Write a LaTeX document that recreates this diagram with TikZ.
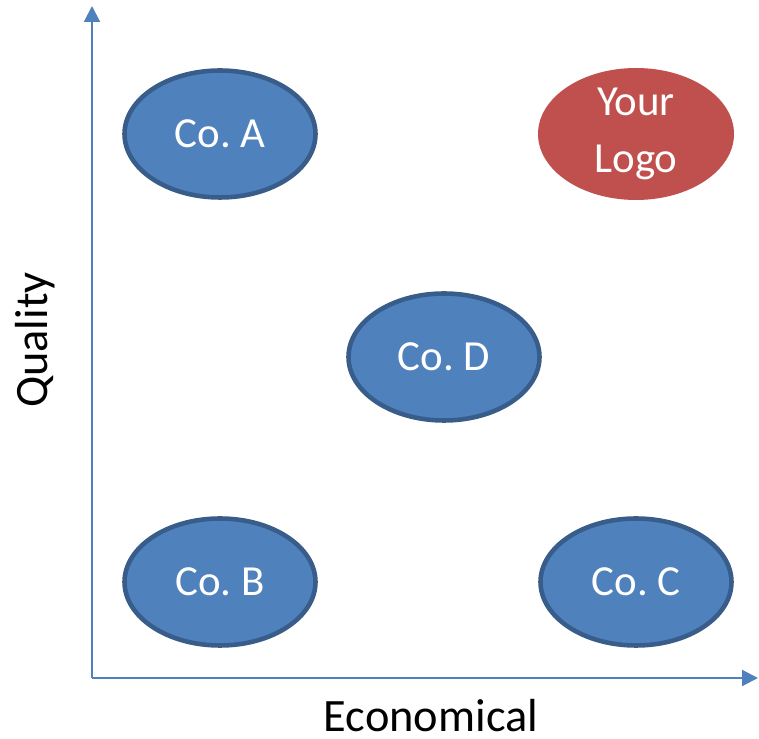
\documentclass[tikz,border=0pt]{standalone}
\usepackage{fontspec}
\setmainfont{Carlito}
\usetikzlibrary{shapes.geometric,arrows.meta}

\definecolor{coblue}{HTML}{4F81BD}
\definecolor{coedge}{HTML}{385D8A}
\definecolor{logored}{HTML}{C0504D}

\tikzset{
	company/.style={ellipse, fill=coblue, draw=coedge, line width=1.3pt, inner sep=0pt,
		minimum width=1.91cm, minimum height=1.27cm, text=white, font=\fontsize{12.2}{14}\selectfont},
	logo/.style={ellipse, fill=logored, inner sep=0pt, minimum width=1.96cm, minimum height=1.32cm,
		text=white, align=center, font=\fontsize{12.2}{16.2}\selectfont},
	axis/.style={draw=coblue, line width=0.6pt, -{Triangle[width=0.16cm,length=0.16cm]}},
	axislabel/.style={font=\fontsize{13.2}{15}\selectfont, anchor=base, inner sep=0pt}
}

\begin{document}
\frenchspacing
\begin{tikzpicture}
				\useasboundingbox (-0.92,-0.61) rectangle (6.67,6.78);
				
				\coordinate (O) at (0,0);
				\coordinate (xend) at (6.66,0);
				\coordinate (yend) at (0,6.72);
				\draw[axis] (O)--(xend);
				\draw[axis] (O)--(yend);
				
				\node[axislabel] (econ) at (3.39,-0.53) {Economical};
				\node[axislabel, rotate=90] (qual) at (-0.45,3.38) {Quality};
				
				\node[company] (coA) at (1.28,5.44) {Co. A};
				\node[logo] (logo) at (5.44,5.44) {Your\\Logo};
				\node[company] (coD) at (3.52,3.21) {Co. D};
				\node[company] (coB) at (1.28,0.96) {Co. B};
				\node[company] (coC) at (5.44,0.96) {Co. C};
				
			\end{tikzpicture}
\end{document}
